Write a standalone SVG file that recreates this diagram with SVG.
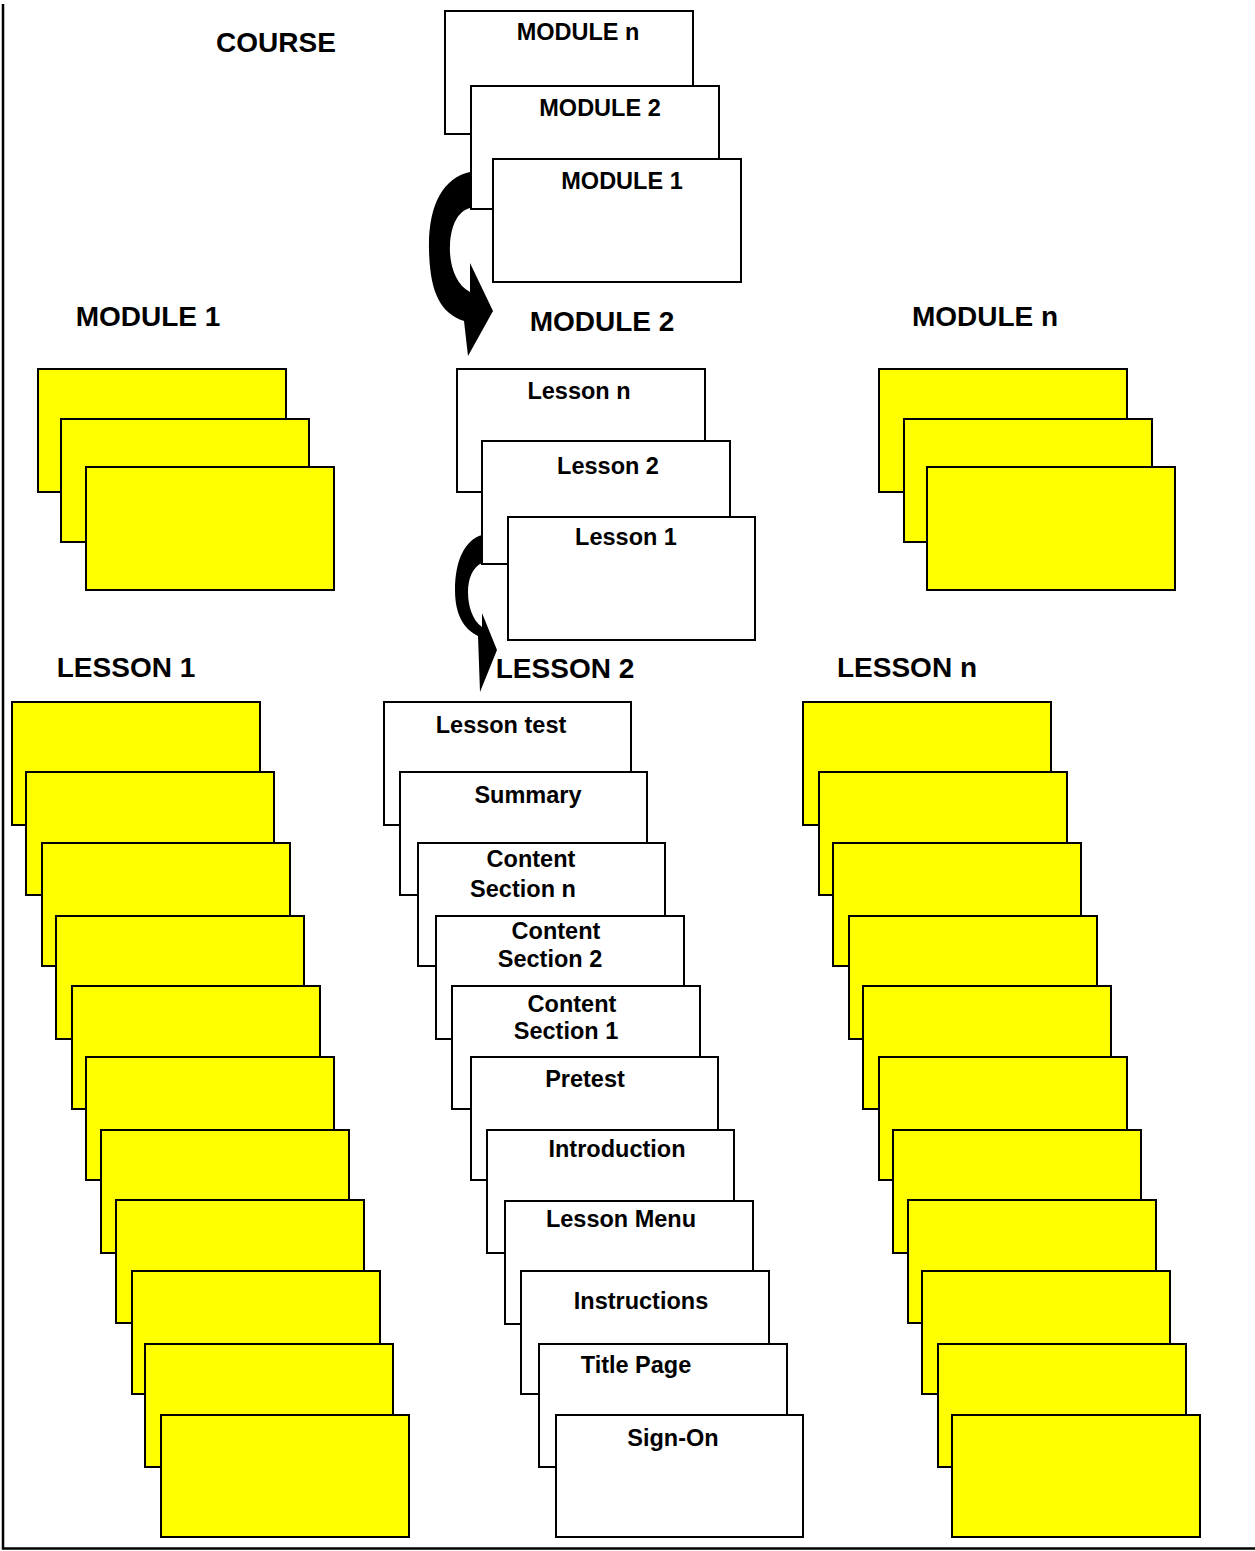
<svg xmlns="http://www.w3.org/2000/svg" width="1255" height="1551" viewBox="0 0 1255 1551">
<style>
.w{fill:#fff;stroke:#000;stroke-width:2}
.y{fill:#ffff00;stroke:#000;stroke-width:2}
.h{font-family:"Liberation Sans",Arial,sans-serif;font-weight:bold;font-size:28px;fill:#000;text-anchor:middle}
.t{font-family:"Liberation Sans",Arial,sans-serif;font-weight:bold;font-size:23.5px;fill:#000;text-anchor:middle}
.arr{fill:#000;stroke:none}
</style>
<rect width="1255" height="1551" fill="#fff"/>
<g id="frame" stroke="#000" stroke-width="2.5" fill="none">
<path d="M3 4 V1548.5 H1255"/>
</g>
<g id="headings">
<text class="h" x="276" y="52">COURSE</text>
<text class="h" x="148" y="326">MODULE 1</text>
<text class="h" x="602" y="331">MODULE 2</text>
<text class="h" x="985" y="326">MODULE n</text>
<text class="h" x="126" y="677">LESSON 1</text>
<text class="h" x="565" y="678">LESSON 2</text>
<text class="h" x="907" y="677">LESSON n</text>
</g>
<g id="connectors">
<path class="arr" d="M470 172 C443 178 428 205 429 250 C430 292 440 313 464 321 L468 356 L493 311 L470 263 L470 292 C456 285 449 265 450 245 C451 225 458 211 470 208 Z"/>
<path class="arr" d="M482 535 C465 540 455 560 455 590 C455 615 464 629 478 636 L480 692 L497 650 L482 613 L482 627 C472 620 468 605 468 592 C468 578 473 567 482 563 Z"/>
</g>
<g id="course-modules">
<g id="course-module-n"><rect class="w" x="445" y="11" width="248" height="123"/><text class="t" x="578" y="40">MODULE n</text></g>
<g id="course-module-2"><rect class="w" x="471" y="86" width="248" height="123"/><text class="t" x="600" y="116">MODULE 2</text></g>
<g id="course-module-1"><rect class="w" x="493" y="159" width="248" height="123"/><text class="t" x="622" y="189">MODULE 1</text></g>
</g>
<g id="module1-lessons">
<g id="m1-box-a"><rect class="y" x="38" y="369" width="248" height="123"/></g>
<g id="m1-box-b"><rect class="y" x="61" y="419" width="248" height="123"/></g>
<g id="m1-box-c"><rect class="y" x="86" y="467" width="248" height="123"/></g>
</g>
<g id="module2-lessons">
<g id="lesson-n"><rect class="w" x="457" y="369" width="248" height="123"/><text class="t" x="579" y="399">Lesson n</text></g>
<g id="lesson-2"><rect class="w" x="482" y="441" width="248" height="123"/><text class="t" x="608" y="474">Lesson 2</text></g>
<g id="lesson-1"><rect class="w" x="508" y="517" width="247" height="123"/><text class="t" x="626" y="545">Lesson 1</text></g>
</g>
<g id="modulen-lessons">
<g id="mn-box-a"><rect class="y" x="879" y="369" width="248" height="123"/></g>
<g id="mn-box-b"><rect class="y" x="904" y="419" width="248" height="123"/></g>
<g id="mn-box-c"><rect class="y" x="927" y="467" width="248" height="123"/></g>
</g>
<g id="lesson1-pages">
<g id="l1-p1"><rect class="y" x="12" y="702" width="248" height="123"/></g>
<g id="l1-p2"><rect class="y" x="26" y="772" width="248" height="123"/></g>
<g id="l1-p3"><rect class="y" x="42" y="843" width="248" height="123"/></g>
<g id="l1-p4"><rect class="y" x="56" y="916" width="248" height="123"/></g>
<g id="l1-p5"><rect class="y" x="72" y="986" width="248" height="123"/></g>
<g id="l1-p6"><rect class="y" x="86" y="1057" width="248" height="123"/></g>
<g id="l1-p7"><rect class="y" x="101" y="1130" width="248" height="123"/></g>
<g id="l1-p8"><rect class="y" x="116" y="1200" width="248" height="123"/></g>
<g id="l1-p9"><rect class="y" x="132" y="1271" width="248" height="123"/></g>
<g id="l1-p10"><rect class="y" x="145" y="1344" width="248" height="123"/></g>
<g id="l1-p11"><rect class="y" x="161" y="1415" width="248" height="122"/></g>
</g>
<g id="lesson2-pages">
<g id="lesson-test"><rect class="w" x="384" y="702" width="247" height="123"/><text class="t" x="501" y="733">Lesson test</text></g>
<g id="summary"><rect class="w" x="400" y="772" width="247" height="123"/><text class="t" x="528" y="803">Summary</text></g>
<g id="content-section-n"><rect class="w" x="418" y="843" width="247" height="123"/><text class="t" x="531" y="867">Content</text><text class="t" x="523" y="897">Section n</text></g>
<g id="content-section-2"><rect class="w" x="436" y="916" width="248" height="123"/><text class="t" x="556" y="939">Content</text><text class="t" x="550" y="967">Section 2</text></g>
<g id="content-section-1"><rect class="w" x="452" y="986" width="248" height="123"/><text class="t" x="572" y="1012">Content</text><text class="t" x="566" y="1039">Section 1</text></g>
<g id="pretest"><rect class="w" x="471" y="1057" width="247" height="123"/><text class="t" x="585" y="1087">Pretest</text></g>
<g id="introduction"><rect class="w" x="487" y="1130" width="247" height="123"/><text class="t" x="617" y="1157">Introduction</text></g>
<g id="lesson-menu"><rect class="w" x="505" y="1201" width="248" height="123"/><text class="t" x="621" y="1227">Lesson Menu</text></g>
<g id="instructions"><rect class="w" x="521" y="1271" width="248" height="123"/><text class="t" x="641" y="1309">Instructions</text></g>
<g id="title-page"><rect class="w" x="539" y="1344" width="248" height="123"/><text class="t" x="636" y="1373">Title Page</text></g>
<g id="sign-on"><rect class="w" x="556" y="1415" width="247" height="122"/><text class="t" x="673" y="1446">Sign-On</text></g>
</g>
<g id="lessonn-pages">
<g id="ln-p1"><rect class="y" x="803" y="702" width="248" height="123"/></g>
<g id="ln-p2"><rect class="y" x="819" y="772" width="248" height="123"/></g>
<g id="ln-p3"><rect class="y" x="833" y="843" width="248" height="123"/></g>
<g id="ln-p4"><rect class="y" x="849" y="916" width="248" height="123"/></g>
<g id="ln-p5"><rect class="y" x="863" y="986" width="248" height="123"/></g>
<g id="ln-p6"><rect class="y" x="879" y="1057" width="248" height="123"/></g>
<g id="ln-p7"><rect class="y" x="893" y="1130" width="248" height="123"/></g>
<g id="ln-p8"><rect class="y" x="908" y="1200" width="248" height="123"/></g>
<g id="ln-p9"><rect class="y" x="922" y="1271" width="248" height="123"/></g>
<g id="ln-p10"><rect class="y" x="938" y="1344" width="248" height="123"/></g>
<g id="ln-p11"><rect class="y" x="952" y="1415" width="248" height="122"/></g>
</g>
</svg>
